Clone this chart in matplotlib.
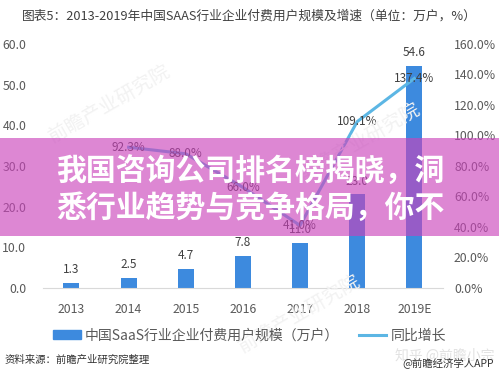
import matplotlib
matplotlib.use("Agg")
import matplotlib.pyplot as plt
from matplotlib.patches import Rectangle
from matplotlib.lines import Line2D
from matplotlib.patches import Patch

plt.rcParams["font.family"] = ["Noto Sans CJK SC", "DejaVu Sans"]

years = ["2013", "2014", "2015", "2016", "2017", "2018", "2019E"]
users = [1.3, 2.5, 4.7, 7.8, 11.0, 23.0, 54.6]          # 万户
growth = [None, 92.3, 88.0, 66.0, 41.0, 109.1, 137.4]   # %
left_ticks = [0, 10, 20, 30, 40, 50, 60]
right_ticks = [0, 20, 40, 60, 80, 100, 120, 140, 160]

title = "图表5：2013-2019年中国SAAS行业企业付费用户规模及增速（单位：万户，%）"
bar_name = "中国SaaS行业企业付费用户规模（万户）"
line_name = "同比增长"
source = "资料来源：前瞻产业研究院整理"
banner = ["我国咨询公司排名榜揭晓，洞", "悉行业趋势与竞争格局，你不"]

BAR = "#3d8ade"
LINE = "#5cb6e4"
TXT = "#595959"

fig = plt.figure(figsize=(4.99, 3.74), dpi=100)
ax = fig.add_axes([0.086, 0.23, 0.8016, 0.6524])
ax2 = ax.twinx()

x = list(range(len(years)))
ax.bar(x, users, width=0.28, color=BAR, zorder=2)
for xi, v in zip(x, users):
    ax.annotate(f"{v:.1f}", (xi, v), xytext=(0, 5), textcoords="offset points",
                ha="center", va="bottom", fontsize=8.5, color="#404040")

gx = [xi for xi, g in zip(x, growth) if g is not None]
gy = [g for g in growth if g is not None]
ax2.plot(gx, gy, color=LINE, lw=2.2, zorder=3)
for xi, g in zip(gx, gy):
    ax2.text(xi, g, f"{g:.1f}%", ha="center", va="center", fontsize=8.5, color="#404040")

ax.set_xlim(-0.5, len(years) - 0.5)
ax.set_ylim(0, 60)
ax2.set_ylim(0, 160)
ax.set_yticks(left_ticks)
ax.set_yticklabels([f"{t:.1f}" for t in left_ticks])
ax2.set_yticks(right_ticks)
ax2.set_yticklabels([f"{t:.1f}%" for t in right_ticks])
ax.set_xticks(x)
ax.set_xticklabels(years)

for a in (ax, ax2):
    for s in a.spines.values():
        s.set_visible(False)
    a.tick_params(length=0, colors=TXT, labelsize=8.8)
ax.spines["bottom"].set_visible(True)
ax.spines["bottom"].set_color("#d9d9d9")
ax.tick_params(axis="y", pad=12)
ax2.tick_params(axis="y", pad=8)
ax.tick_params(axis="x", pad=11)

fig.text(0.5, 0.958, title, ha="center", va="center", fontsize=9.2, color="#404040")

handles = [Patch(color=BAR), Line2D([0], [0], color=LINE, lw=2.2)]
fig.legend(handles, [bar_name, line_name], loc="center", ncol=2,
           bbox_to_anchor=(0.5, 0.103), frameon=False, fontsize=10,
           labelcolor=TXT, handlelength=2.0, handletextpad=0.3, columnspacing=1.4)

fig.text(0.01, 0.037, source, ha="left", va="center", fontsize=7.5, color="#333333")
fig.text(0.99, 0.05, "知乎 @前瞻小宗", ha="right", va="center", fontsize=10, color="#e2e2e2")
fig.text(0.99, 0.03, "@前瞻经济学人APP", ha="right", va="center", fontsize=7.5, color="#333333")

# faint diagonal watermarks
for wx, wy in [(0.22, 0.72), (0.72, 0.62), (0.6, 0.16)]:
    fig.text(wx, wy, "前瞻产业研究院", rotation=30, fontsize=14, color="#f2f2f2",
             ha="center", va="center", zorder=0)

# pink headline banner
fig.patches.append(Rectangle((0, (374 - 236) / 374), 1, 98 / 374, transform=fig.transFigure,
                             facecolor="#ca43bb", alpha=0.64, zorder=5))
for i, line in enumerate(banner):
    fig.text(0.502, (374 - 172 - 36 * i) / 374, line, ha="center", va="center",
             fontsize=21.5, fontweight="heavy", color="white", zorder=6)

fig.savefig("out.png", dpi=100)
